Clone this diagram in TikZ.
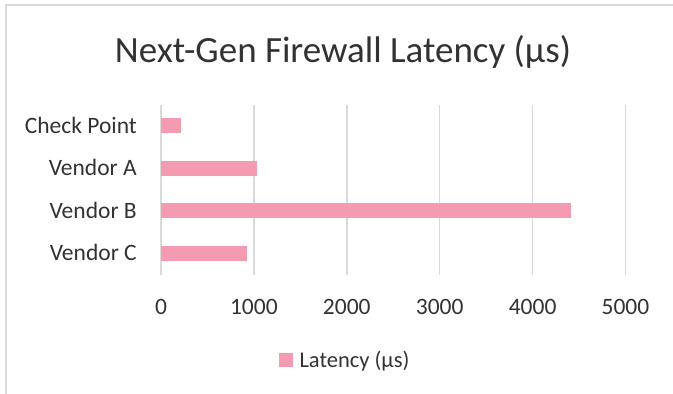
\documentclass[tikz,border=0pt]{standalone}
\usepackage{fontspec}
\setmainfont{Carlito}
\usetikzlibrary{positioning}
\definecolor{barpink}{RGB}{245,155,177}
\definecolor{gridgray}{RGB}{217,217,217}
\definecolor{txtgray}{RGB}{50,50,50}
\tikzset{lbl/.style={inner sep=0pt,text=txtgray,font=\fontsize{23.5}{28}\selectfont},
  ttl/.style={inner sep=0pt,text=txtgray,font=\fontsize{37}{44}\selectfont}}
\begin{document}
\begin{tikzpicture}[x=1pt,y=1pt]
\useasboundingbox (0,0) rectangle (673,394);
\draw[gridgray,line width=2pt] (6,0)--(6,389)--(673,389);
\node[ttl,anchor=base] (title) at (343,331.7) {Next-Gen Firewall Latency (µs)};
\begin{scope}[shift={(161,0)},x=.0929pt]
\foreach \v in {0,1000,2000,3000,4000,5000}{\draw[gridgray,line width=1.5pt] (\v,119)--(\v,289);
  \node[lbl,anchor=base] (tick\v) at (\v,79) {\v};}
\fill[barpink] (0,260.5) rectangle (215,275.5);\fill[barpink] (0,218) rectangle (1037,233);
\fill[barpink] (0,175.5) rectangle (4410,190.5);\fill[barpink] (0,133) rectangle (926,148);
\end{scope}
\node[lbl,anchor=base east] (cp) at (137,260.7) {Check Point};\node[lbl,anchor=base east] (va) at (137,218) {Vendor A};
\node[lbl,anchor=base east] (vb) at (137,175.5) {Vendor B};\node[lbl,anchor=base east] (vc) at (137,133) {Vendor C};
\fill[barpink] (279.3,27.3) rectangle (292.7,40.7);
\node[lbl,anchor=base west,font=\fontsize{22.5}{27}\selectfont] (legend) at (299.3,26.7) {Latency (µs)};
\end{tikzpicture}
\end{document}
